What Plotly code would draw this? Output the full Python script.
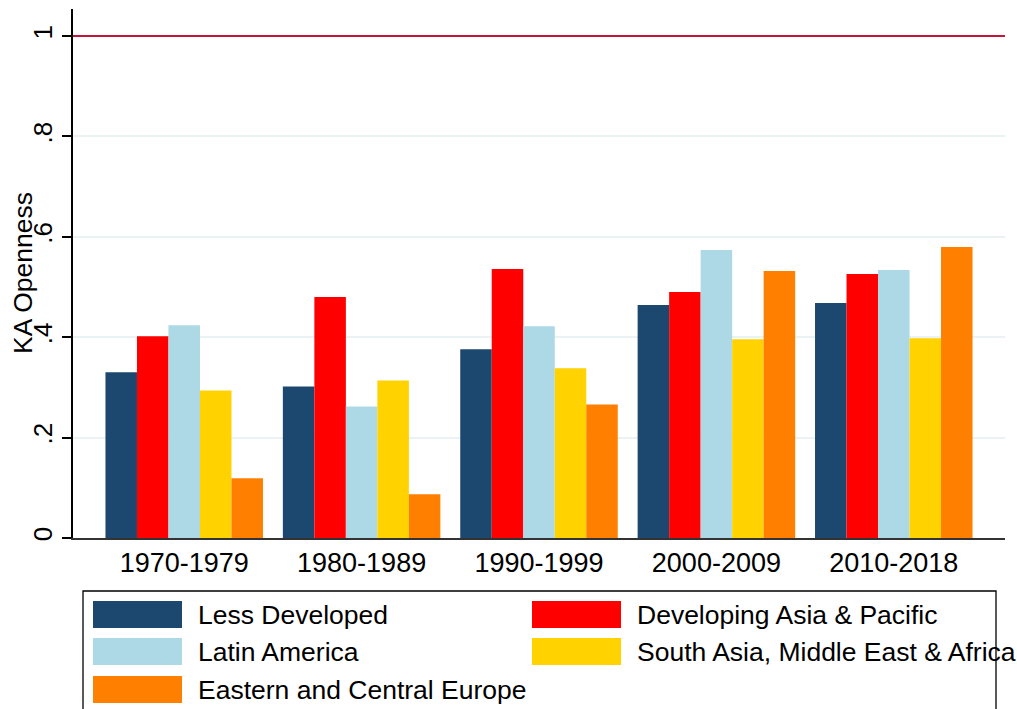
import plotly.graph_objects as go

# ---- data ----
periods = ["1970-1979", "1980-1989", "1990-1999", "2000-2009", "2010-2018"]
series_names = ["Less Developed", "Developing Asia & Pacific", "Latin America",
                "South Asia, Middle East & Africa", "Eastern and Central Europe"]
less_developed = [0.330, 0.302, 0.376, 0.464, 0.468]
developing_asia = [0.402, 0.480, 0.536, 0.490, 0.526]
latin_america = [0.424, 0.262, 0.422, 0.574, 0.534]
south_asia_mea = [0.294, 0.314, 0.338, 0.396, 0.398]
eastern_central_europe = [0.119, 0.087, 0.266, 0.532, 0.580]
ref_line = 1.0
y_tickvals = [0, 0.2, 0.4, 0.6, 0.8, 1]
y_ticktext = ["0", ".2", ".4", ".6", ".8", "1"]

series_values = [less_developed, developing_asia, latin_america, south_asia_mea, eastern_central_europe]
colors = ["#1c476f", "#ff0000", "#add8e6", "#ffd200", "#ff7f00"]

# body margin removed via post_script, so figure starts at page origin
OFF = 0
PAGE_W, PAGE_H = 1017, 709
W, H = PAGE_W - OFF, PAGE_H - OFF
# plot area in page pixels
PL, PR, PT, PB = 73, 1005, 9, 538
ML, MR, MT, MB = PL - OFF, W - (PR - OFF), PT - OFF, H - (PB - OFF)
PW, PH = PR - PL, PB - PT
FONT = "Liberation Sans, Arial, sans-serif"

def px(x):  # page x -> paper
    return (x - PL) / PW

def py(y):  # page y -> paper
    return (PB - y) / PH

fig = go.Figure()
for name, vals, c in zip(series_names, series_values, colors):
    fig.add_trace(go.Bar(x=periods, y=vals, name=name, marker=dict(color=c, line=dict(width=0)),
                         showlegend=False))

shapes = [
    dict(type="line", xref="paper", yref="y", x0=0, x1=1, y0=ref_line, y1=ref_line,
         line=dict(color="#c8143c", width=2)),
    # legend box
    dict(type="rect", xref="paper", yref="paper", x0=px(83), x1=px(996), y0=py(740), y1=py(591),
         line=dict(color="black", width=1.3), fillcolor="rgba(0,0,0,0)"),
]
annotations = [
    dict(text="KA Openness", xref="paper", yref="paper", x=px(23), y=py(273), textangle=-90,
         showarrow=False, font=dict(family=FONT, size=26.5, color="black"),
         xanchor="center", yanchor="middle"),
]

# legend layout: (column, row)
slots = [(0, 0), (1, 0), (0, 1), (1, 1), (0, 2)]
col_sw_x = [93, 532]
col_tx_x = [196, 635]
row_cy = [614.5, 651.5, 689.5]
for (ci, ri), name, c in zip(slots, series_names, colors):
    cy = row_cy[ri]
    shapes.append(dict(type="rect", xref="paper", yref="paper",
                       x0=px(col_sw_x[ci]), x1=px(col_sw_x[ci] + 89),
                       y0=py(cy + 13.5), y1=py(cy - 13.5),
                       line=dict(width=0), fillcolor=c))
    annotations.append(dict(text=name, xref="paper", yref="paper", x=px(col_tx_x[ci]), y=py(cy),
                            xanchor="left", yanchor="middle", showarrow=False,
                            font=dict(family=FONT, size=26.5, color="black")))

fig.update_layout(
    width=W, height=H,
    margin=dict(l=ML, r=MR, t=MT, b=MB, pad=0),
    paper_bgcolor="white", plot_bgcolor="white",
    barmode="group", bargap=0.112, bargroupgap=0,
    font=dict(family=FONT, size=26, color="black"),
    shapes=shapes, annotations=annotations,
    showlegend=False,
)
fig.update_xaxes(range=[-0.627, 4.627], showline=True, linecolor="#333333", linewidth=2,
                 ticks="", showgrid=False, tickfont=dict(size=27), automargin=False)
fig.update_yaxes(range=[0, 1.054], tickvals=y_tickvals, ticktext=y_ticktext, tickangle=-90,
                 showline=True, linecolor="black", linewidth=1.5, ticks="outside", ticklen=9,
                 tickcolor="black", tickwidth=1.5,
                 showgrid=True, gridcolor="#eaf2f3", gridwidth=2, zeroline=False,
                 tickfont=dict(size=26), automargin=False)

fig.write_html(
    "out.html",
    config={"displayModeBar": False},
    post_script="document.body.style.margin='0';document.body.style.overflow='hidden';",
)
